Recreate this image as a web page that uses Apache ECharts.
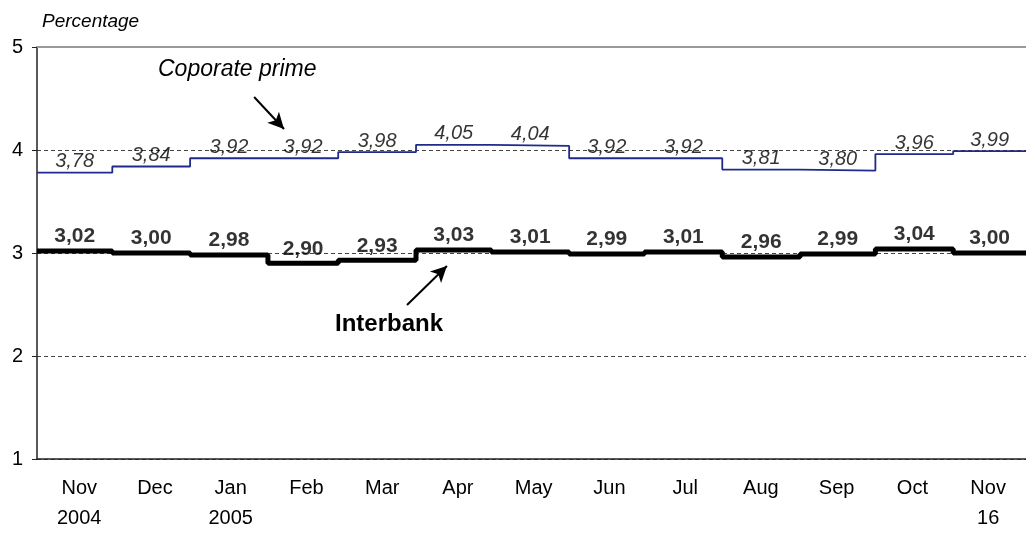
<!DOCTYPE html>
<html>
<head>
<meta charset="utf-8">
<script src="https://cdn.jsdelivr.net/npm/echarts@6/dist/echarts.min.js"></script>
<style>
  html, body { margin: 0; padding: 0; background: #ffffff; }
  #chart { width: 1026px; height: 533px; }
</style>
</head>
<body>
<div id="chart"></div>
<script>
// First day of each month that a monthly average applies to
const periodStarts = ['2004-11-01', '2004-12-01', '2005-01-01', '2005-02-01', '2005-03-01', '2005-04-01',
                      '2005-05-01', '2005-06-01', '2005-07-01', '2005-08-01', '2005-09-01', '2005-10-01', '2005-11-01'];
const periodEnd = '2005-11-30';

// Month captions along the bottom
const monthLabels = ['Nov\n2004', 'Dec', 'Jan\n2005', 'Feb', 'Mar', 'Apr', 'May', 'Jun', 'Jul', 'Aug', 'Sep', 'Oct', 'Nov\n16'];

// Monthly average rates, percent
const corporatePrime = [3.78, 3.84, 3.92, 3.92, 3.98, 4.05, 4.04, 3.92, 3.92, 3.81, 3.80, 3.96, 3.99];
const interbank      = [3.02, 3.00, 2.98, 2.90, 2.93, 3.03, 3.01, 2.99, 3.01, 2.96, 2.99, 3.04, 3.00];

// Value axis range
const yMin = 1;
const yMax = 5;
const yStep = 1;

const FONT = '"Liberation Sans", Arial, sans-serif';
const DAY = 86400000;

// Parse a YYYY-MM-DD string as a local date
function toTime(s) {
  const p = s.split('-').map(Number);
  return new Date(p[0], p[1] - 1, p[2]).getTime();
}

const starts = periodStarts.map(toTime);
const endTime = toTime(periodEnd);
const bounds = starts.concat([endTime]);

// Step series: each monthly value holds until the next month begins
function stepData(values) {
  const pts = values.map((v, i) => [starts[i], v]);
  pts.push([endTime, values[values.length - 1]]);
  return pts;
}

// Label anchors in the middle of each month's span
function midData(values) {
  return values.map((v, i) => [(bounds[i] + bounds[i + 1]) / 2, v]);
}

const fmt = p => p.value[1].toFixed(2).replace('.', ',');
const axisDay = n => starts[0] + n * DAY;

const chart = echarts.init(document.getElementById('chart'), null, { renderer: 'canvas' });

chart.setOption({
  animation: false,
  backgroundColor: '#ffffff',
  textStyle: { fontFamily: FONT },
  grid: [
    { left: 37, right: 0, top: 47, bottom: 74 },
    { left: 41.35, right: -20, top: 47, bottom: 74 }
  ],
  xAxis: [
    {
      type: 'time',
      gridIndex: 0,
      min: starts[0],
      max: endTime,
      axisLine: { show: true, lineStyle: { color: '#222222', width: 1.5 } },
      axisTick: { show: false },
      axisLabel: { show: false },
      splitLine: { show: false }
    },
    {
      type: 'category',
      gridIndex: 1,
      data: monthLabels,
      boundaryGap: true,
      axisLine: { show: false },
      axisTick: { show: false },
      splitLine: { show: false },
      axisLabel: {
        interval: 0,
        color: '#000000',
        fontFamily: FONT,
        fontSize: 20,
        lineHeight: 30,
        margin: 19
      }
    }
  ],
  yAxis: [
    {
      type: 'value',
      gridIndex: 0,
      min: yMin,
      max: yMax,
      interval: yStep,
      name: 'Percentage',
      nameLocation: 'end',
      nameGap: 16,
      nameTextStyle: {
        color: '#000000',
        fontFamily: FONT,
        fontStyle: 'italic',
        fontSize: 19,
        align: 'left',
        padding: [0, 0, 0, 5]
      },
      axisLine: { show: true, lineStyle: { color: '#222222', width: 1.5 } },
      axisTick: { show: true, length: 5, lineStyle: { color: '#222222', width: 1 } },
      axisLabel: { color: '#000000', fontFamily: FONT, fontSize: 20, margin: 14 },
      splitLine: { show: true, lineStyle: { color: '#444444', width: 1, type: [4, 3] } }
    },
    { type: 'value', gridIndex: 1, show: false }
  ],
  series: [
    {
      name: 'Coporate prime',
      type: 'line',
      xAxisIndex: 0,
      yAxisIndex: 0,
      step: 'end',
      data: stepData(corporatePrime),
      showSymbol: false,
      lineStyle: { color: '#1f2a8c', width: 1.8 },
      z: 3,
      markLine: {
        silent: true,
        symbol: ['none', 'arrow'],
        symbolSize: [12, 16],
        label: { show: false },
        lineStyle: { color: '#000000', width: 2, type: 'solid' },
        data: [
          [{ coord: [axisDay(86.5), 4.515] }, { coord: [axisDay(98.4), 4.204] }],
          [{ coord: [axisDay(147.4), 2.495] }, { coord: [axisDay(163.3), 2.874] }]
        ]
      }
    },
    {
      name: 'Interbank',
      type: 'line',
      xAxisIndex: 0,
      yAxisIndex: 0,
      step: 'end',
      data: stepData(interbank),
      showSymbol: false,
      lineStyle: { color: '#000000', width: 5 },
      z: 3,
      markLine: {
        silent: true,
        symbol: 'none',
        label: { show: false },
        lineStyle: { color: '#9a9a9a', width: 2, type: 'solid' },
        data: [{ yAxis: yMax }]
      }
    },
    {
      name: 'Coporate prime labels',
      type: 'scatter',
      xAxisIndex: 0,
      yAxisIndex: 0,
      data: midData(corporatePrime),
      symbolSize: 0,
      z: 4,
      label: {
        show: true,
        position: 'top',
        distance: 1,
        formatter: fmt,
        color: '#000000',
        fontFamily: FONT,
        fontStyle: 'italic',
        fontSize: 20
      }
    },
    {
      name: 'Interbank labels',
      type: 'scatter',
      xAxisIndex: 0,
      yAxisIndex: 0,
      data: midData(interbank),
      symbolSize: 0,
      z: 4,
      label: {
        show: true,
        position: 'top',
        distance: 4,
        formatter: fmt,
        color: '#000000',
        fontFamily: FONT,
        fontWeight: 'bold',
        fontSize: 21
      }
    }
  ],
  graphic: [
    {
      type: 'text',
      x: 158,
      y: 70,
      style: {
        text: 'Coporate prime',
        fill: '#000000',
        font: 'italic 23px ' + FONT,
        align: 'left',
        verticalAlign: 'middle'
      }
    },
    {
      type: 'text',
      x: 335,
      y: 324,
      style: {
        text: 'Interbank',
        fill: '#000000',
        font: 'bold 24px ' + FONT,
        align: 'left',
        verticalAlign: 'middle'
      }
    }
  ]
});
</script>
</body>
</html>
